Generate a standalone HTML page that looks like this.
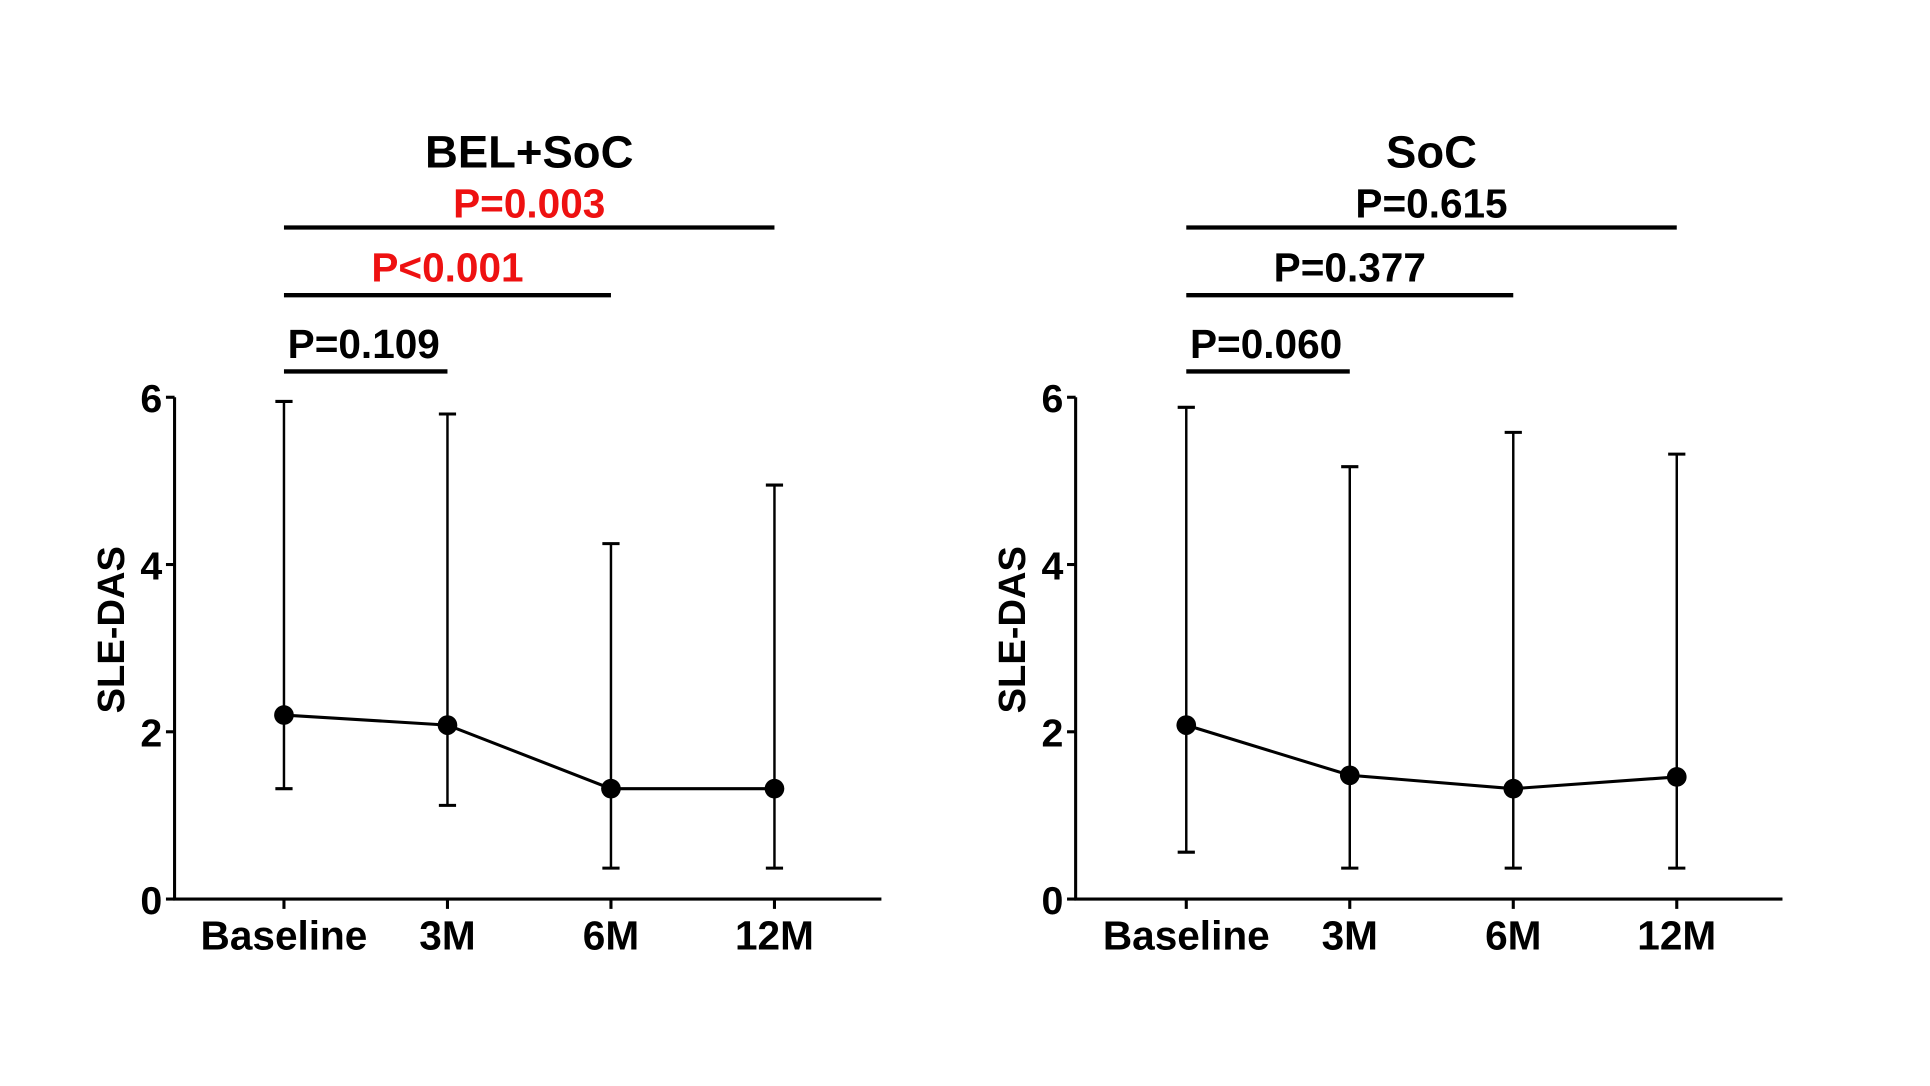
<!DOCTYPE html>
<html><head><meta charset="utf-8"><style>
html,body{margin:0;padding:0;background:#fff;}
svg{display:block;font-family:"Liberation Sans",Arial,sans-serif;font-weight:bold;}
</style></head><body>
<svg id="chart" width="1930" height="1086" viewBox="0 0 1570 883" preserveAspectRatio="none" xmlns="http://www.w3.org/2000/svg"></svg>
<script>
const categories = ["Baseline","3M","6M","12M"];
const yTicks = [0,2,4,6];
const belMean = [2.2,2.08,1.32,1.32];
const belUpper = [5.95,5.8,4.25,4.95];
const belLower = [1.32,1.12,0.37,0.37];
const socMean = [2.08,1.48,1.32,1.46];
const socUpper = [5.88,5.17,5.58,5.32];
const socLower = [0.56,0.37,0.37,0.37];
const belPvals = ["P=0.109","P<0.001","P=0.003"];
const socPvals = ["P=0.060","P=0.377","P=0.615"];
const belRed = [false,true,true];
const socRed = [false,false,false];

const svg = document.getElementById('chart');
const NS = 'http://www.w3.org/2000/svg';
function mk(tag, attrs, parent){const e=document.createElementNS(NS,tag);for(const k in attrs)e.setAttribute(k,attrs[k]);(parent||svg).appendChild(e);return e;}

function panel(p){
  const g = mk('g',{});
  
  
  const x0=p.ax, x1=p.ax+575, yb=731, yt=323;
  const ys = v => yb - (v/6)*(yb-yt);
  const xs = i => p.cx0 + i*133;
  const ax = mk('line',{x1:x0,y1:yt,x2:x0,y2:yb+1,stroke:'#000','stroke-width':2.5},g);
  
  
  const bx = mk('line',{x1:x0-1,y1:yb,x2:x1,y2:yb,stroke:'#000','stroke-width':2.5},g);
  
  
  yTicks.forEach(t=>{
    mk('line',{x1:x0-7,y1:ys(t),x2:x0,y2:ys(t),stroke:'#000','stroke-width':2.5},g);
    const tl = mk('text',{x:x0-10,y:ys(t)+12,'text-anchor':'end','font-size':32},g);
    tl.textContent=t;
    
    
  });
  categories.forEach((c,i)=>{
    mk('line',{x1:xs(i),y1:yb,x2:xs(i),y2:yb+8,stroke:'#000','stroke-width':2.5},g);
    const tl = mk('text',{x:xs(i),y:772,'text-anchor':'middle','font-size':33},g);
    tl.textContent=c;
    
    
  });
  const yt2 = mk('text',{x:0,y:0,'text-anchor':'middle','font-size':31,transform:`translate(${x0-41},512) rotate(-90)`},g);
  yt2.textContent='SLE-DAS';
  
  
  p.upper.forEach((u,i)=>{
    const eb = mk('g',{},g);
    
    
    mk('line',{x1:xs(i),y1:ys(u),x2:xs(i),y2:ys(p.lower[i]),stroke:'#000','stroke-width':2},eb);
    mk('line',{x1:xs(i)-7,y1:ys(u),x2:xs(i)+7,y2:ys(u),stroke:'#000','stroke-width':2.5},eb);
    mk('line',{x1:xs(i)-7,y1:ys(p.lower[i]),x2:xs(i)+7,y2:ys(p.lower[i]),stroke:'#000','stroke-width':2.5},eb);
  });
  const ln = mk('polyline',{points:p.mean.map((m,i)=>xs(i)+','+ys(m)).join(' '),fill:'none',stroke:'#000','stroke-width':2.5},g);
  
  
  p.mean.forEach((m,i)=>{
    const pt = mk('circle',{cx:xs(i),cy:ys(m),r:8,fill:'#000'},g);
    
    
  });
  const title = mk('text',{x:(xs(0)+xs(3))/2,y:136,'text-anchor':'middle','font-size':37},g);
  title.textContent=p.title;
  
  
  const barY=[302,240,185], txtY=[291,229,177];
  p.pv.forEach((t,k)=>{
    const end = xs(k+1);
    const b = mk('line',{x1:xs(0),y1:barY[k],x2:end,y2:barY[k],stroke:'#000','stroke-width':3.5},g);
    
    
    const cx = k===0 ? xs(0)+3 : (xs(0)+end)/2;
    const tx = mk('text',{x:cx,y:txtY[k],'text-anchor':k===0?'start':'middle','font-size':33,fill:p.red[k]?'#ee1111':'#000'},g);
    tx.textContent=t;
    
    
  });
}
panel({key:'bel-soc',title:'BEL+SoC',ax:142,cx0:231,mean:belMean,upper:belUpper,lower:belLower,pv:belPvals,red:belRed});
panel({key:'soc',title:'SoC',ax:875,cx0:965,mean:socMean,upper:socUpper,lower:socLower,pv:socPvals,red:socRed});
</script>
</body></html>
